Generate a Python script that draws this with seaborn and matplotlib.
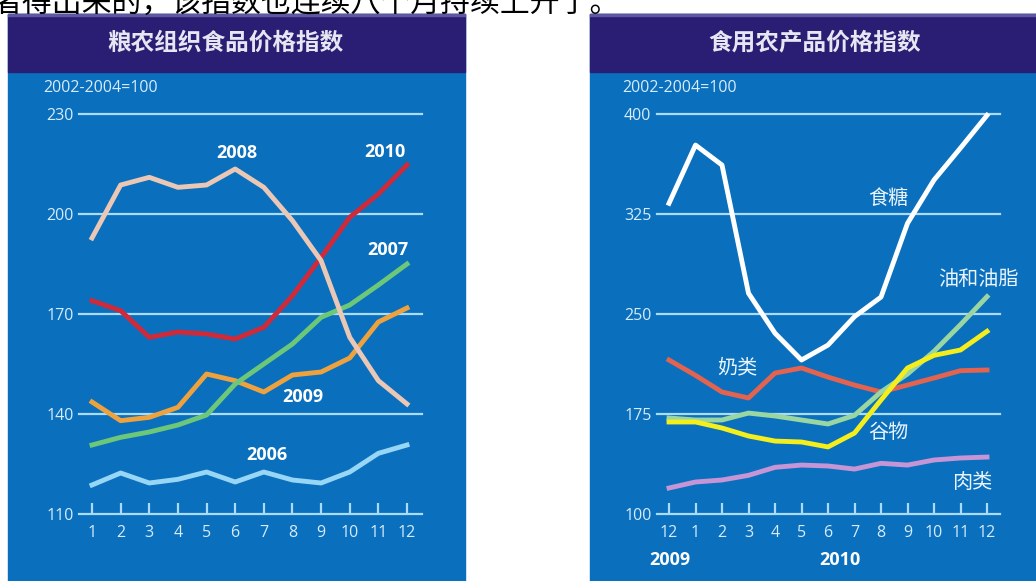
import pandas as pd
import matplotlib.pyplot as plt
import seaborn as sns
from matplotlib.patches import Rectangle

# FAO food price index by year (2002-2004=100)
months = list(range(1, 13))
fao_2006 = [118.7, 122.3, 119.3, 120.4, 122.6, 119.6, 122.6, 120.2, 119.3, 122.6, 128.2, 130.7]
fao_2007 = [130.7, 133.0, 134.6, 136.7, 139.7, 149.0, 155.0, 161.0, 169.0, 172.7, 178.7, 185.0]
fao_2008 = [192.8, 208.7, 211.0, 208.0, 208.7, 213.5, 208.0, 198.0, 186.0, 163.0, 150.0, 143.0]
fao_2009 = [143.6, 138.0, 139.0, 142.0, 152.0, 150.0, 146.6, 151.7, 152.6, 156.8, 167.6, 171.8]
fao_2010 = [174.0, 171.0, 163.0, 164.6, 164.0, 162.5, 166.0, 175.5, 187.0, 199.0, 206.0, 214.7]

# commodity indices, Dec 2009 - Dec 2010
month_labels = ['12', '1', '2', '3', '4', '5', '6', '7', '8', '9', '10', '11', '12']
sugar = [333, 376.7, 361.7, 265.6, 235.6, 215.5, 226.7, 248, 262.7, 318, 350.5, 374.5, 399]
oils = [172, 170.5, 170.5, 175.7, 173.5, 170.5, 167.5, 174, 191.5, 205, 222, 242, 263]
cereals = [169, 169, 164.5, 158.5, 154.7, 154, 150.3, 160.7, 185.5, 209.5, 219, 223, 237]
dairy = [215.5, 204, 191.5, 187, 205.7, 209.5, 202.7, 196.7, 191.5, 196.7, 202, 207.5, 208]
meat = [119.5, 124, 125.5, 129, 135, 136.7, 136, 133.7, 138, 136.7, 140.5, 142, 142.7]

left_df = pd.DataFrame({
    'month': months * 5,
    'value': fao_2006 + fao_2009 + fao_2007 + fao_2010 + fao_2008,
    'series': ['2006'] * 12 + ['2009'] * 12 + ['2007'] * 12 + ['2010'] * 12 + ['2008'] * 12,
})
n = len(month_labels)
right_df = pd.DataFrame({
    'pos': list(range(n)) * 5,
    'value': meat + dairy + oils + cereals + sugar,
    'series': ['肉类'] * n + ['奶类'] * n + ['油和油脂'] * n + ['谷物'] * n + ['食糖'] * n,
})

left_pal = {'2006': '#98d6f6', '2009': '#eda23e', '2007': '#6cc878',
            '2010': '#cf2a3a', '2008': '#ebc7b6'}
right_pal = {'肉类': '#c595d6', '奶类': '#e2634f', '油和油脂': '#9ad6a2',
             '谷物': '#f4ee1c', '食糖': '#ffffff'}

plt.rcParams['font.family'] = ['Open Sans', 'Noto Sans CJK SC', 'DejaVu Sans']

W, H = 1036, 581
fig = plt.figure(figsize=(W / 100, H / 100), dpi=100)
fig.patch.set_facecolor('white')

def px_rect(x0, y0, x1, y1, color):
    fig.patches.append(Rectangle((x0 / W, 1 - y1 / H), (x1 - x0) / W, (y1 - y0) / H,
                                 transform=fig.transFigure, color=color, zorder=0))

blue = '#0a6fbd'
navy = '#2a1d74'
grid_c = '#a9dcf6'
txt_c = '#d6ecfb'

# panels and title bars
for x0, x1 in [(8, 465), (590, 1036)]:
    px_rect(x0, 14, x1, 581, blue)
    px_rect(x0, 14, x1, 72, navy)
    px_rect(x0, 14, x1, 16, '#5e58a0')

fig.text(225 / W, 1 - 43 / H, '粮农组织食品价格指数', ha='center', va='center',
         fontsize=17, fontweight='bold', color='#e6e6f2', family=['Noto Sans CJK SC'])
fig.text(815 / W, 1 - 43 / H, '食用农产品价格指数', ha='center', va='center',
         fontsize=17, fontweight='bold', color='#e6e6f2', family=['Noto Sans CJK SC'])

# clipped sentence at the top of the page
fig.text(-8 / W, 1 - 3 / H, '者得出来的，该指数也连续八个月持续上升了。', ha='left', va='center',
         fontsize=21.5, color='black', family=['Noto Sans CJK SC'])

ax1 = fig.add_axes([79 / W, 1 - 514 / H, 343 / W, 400 / H])
ax2 = fig.add_axes([657 / W, 1 - 514 / H, 343 / W, 400 / H])
ax1.set_zorder(2)
ax2.set_zorder(2)

def style_axis(ax, yticks):
    ax.set_facecolor('none')
    for s in ax.spines.values():
        s.set_visible(False)
    for v in yticks:
        ax.axhline(v, color=grid_c, lw=1.6, zorder=1)
    ax.set_yticks(yticks)
    ax.set_yticklabels([str(v) for v in yticks])
    ax.tick_params(axis='y', length=0, pad=4, labelsize=11.5, labelcolor=txt_c)
    ax.tick_params(axis='x', direction='in', length=8, width=1.6, color=grid_c,
                   pad=8, labelsize=11.5, labelcolor=txt_c)
    ax.set_xlabel('')
    ax.set_ylabel('')

sns.lineplot(data=left_df, x='month', y='value', hue='series', palette=left_pal,
             hue_order=['2006', '2009', '2007', '2010', '2008'], lw=3.5,
             legend=False, ax=ax1, zorder=3)
ax1.set_xlim(1 - 13 / 28.64, 12 + 15 / 28.64)
ax1.set_ylim(110, 230)
style_axis(ax1, [110, 140, 170, 200, 230])
ax1.set_xticks(months)
ax1.set_xticklabels([str(m) for m in months])

sns.lineplot(data=right_df, x='pos', y='value', hue='series', palette=right_pal,
             hue_order=['肉类', '奶类', '油和油脂', '谷物', '食糖'], lw=3.5,
             legend=False, ax=ax2, zorder=3)
ax2.set_xlim(-12 / 26.5, 12 + 13 / 26.5)
ax2.set_ylim(100, 400)
style_axis(ax2, [100, 175, 250, 325, 400])
ax2.set_xticks(range(n))
ax2.set_xticklabels(month_labels)

for ax in (ax1, ax2):
    for ln in ax.lines:
        ln.set_clip_on(False)

# unit notes
ax1.text(-0.105, 1.065, '2002-2004=100', transform=ax1.transAxes, fontsize=11.5,
         color=txt_c, ha='left', va='center')
ax2.text(-0.10, 1.065, '2002-2004=100', transform=ax2.transAxes, fontsize=11.5,
         color=txt_c, ha='left', va='center')

# series labels
bold = dict(color='white', fontsize=13, fontweight='bold', ha='center', va='center')
ax1.text(6.06, 218.3, '2008', **bold)
ax1.text(11.23, 218.6, '2010', **bold)
ax1.text(11.34, 189.2, '2007', **bold)
ax1.text(8.37, 145.1, '2009', **bold)
ax1.text(7.11, 127.7, '2006', **bold)

cn = dict(color='#eaf4fc', fontsize=14.5, ha='center', va='center', family=['Noto Sans CJK SC'])
ax2.text(8.26, 337, '食糖', **cn)
ax2.text(11.66, 275.5, '油和油脂', **cn)
ax2.text(2.57, 209.5, '奶类', **cn)
ax2.text(8.26, 160.75, '谷物', **cn)
ax2.text(11.43, 124, '肉类', **cn)

xt = ax2.get_xaxis_transform()
ax2.text(0.05, -0.115, '2009', transform=xt, **bold)
ax2.text(6.45, -0.115, '2010', transform=xt, **bold)

fig.savefig('out.png', dpi=100, facecolor=fig.get_facecolor())
